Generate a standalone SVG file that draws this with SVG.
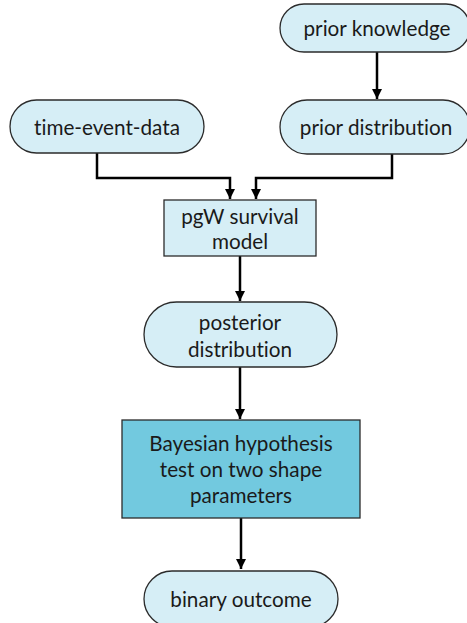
<svg xmlns="http://www.w3.org/2000/svg" width="467" height="623" viewBox="0 0 467 623">
<style>
.n{fill:#d6eef6;stroke:#2b2b2b;stroke-width:1.3}
.d{fill:#72c9df;stroke:#2b2b2b;stroke-width:1.3}
.t{font-family:Lato,"Noto Sans",sans-serif;font-size:20.7px;fill:#1a1a1a;text-anchor:middle;dominant-baseline:central;font-variant-ligatures:none;font-feature-settings:"liga" 0,"dlig" 0}
.c{fill:none;stroke:#000;stroke-width:2.5}
</style>
<defs>
<marker id="a" viewBox="0 0 10 10" refX="10" refY="5" markerWidth="4" markerHeight="4" markerUnits="strokeWidth" orient="auto"><path d="M0,0 L10,5 L0,10 z" fill="#000"/></marker>
</defs>
<rect width="467" height="623" fill="#fff"/>
<g id="connectors">
<path class="c" d="M97,153 V178 H230 V199" marker-end="url(#a)"/>
<path class="c" d="M392,154 V178 H256 V199" marker-end="url(#a)"/>
<path class="c" d="M377,52 V99" marker-end="url(#a)"/>
<path class="c" d="M240,256 V301" marker-end="url(#a)"/>
<path class="c" d="M240,367 V419" marker-end="url(#a)"/>
<path class="c" d="M241,518 V569" marker-end="url(#a)"/>
</g>
<g id="prior-knowledge"><rect class="n" x="280" y="4" width="190" height="48" rx="24"/><text class="t" x="377" y="28">prior knowledge</text></g>
<g id="time-event-data"><rect class="n" x="10" y="100" width="194" height="53" rx="26.5"/><text class="t" x="107" y="127">time-event-data</text></g>
<g id="prior-distribution"><rect class="n" x="280" y="100" width="190" height="54" rx="27"/><text class="t" x="376" y="127">prior distribution</text></g>
<g id="pgw"><rect class="n" x="164" y="200" width="152" height="56"/><text class="t" x="240" y="216">pgW survival</text><text class="t" x="240" y="241">model</text></g>
<g id="posterior"><rect class="n" x="144" y="302" width="193" height="65" rx="32.5"/><text class="t" x="240" y="322">posterior</text><text class="t" x="240" y="349">distribution</text></g>
<g id="bayes"><rect class="d" x="122" y="420" width="238" height="98"/><text class="t" x="241" y="443">Bayesian hypothesis</text><text class="t" x="241" y="469">test on two shape</text><text class="t" x="241" y="495">parameters</text></g>
<g id="binary"><rect class="n" x="144" y="571" width="194" height="56" rx="28"/><text class="t" x="241" y="599">binary outcome</text></g>
</svg>
